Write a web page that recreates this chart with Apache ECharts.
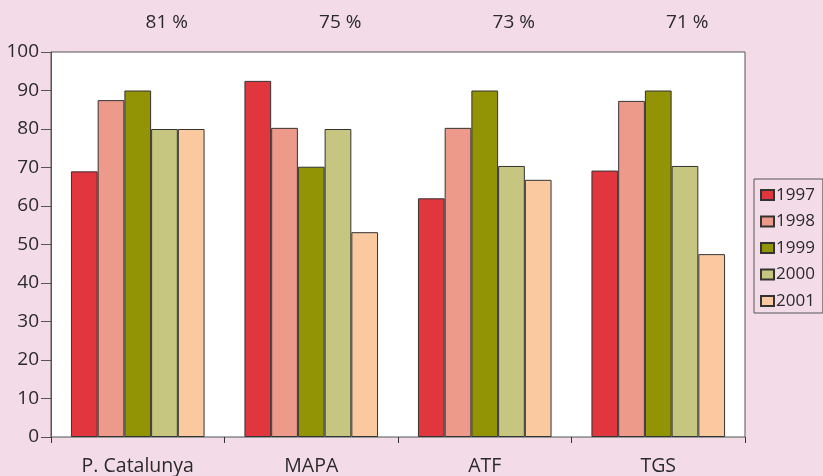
<!DOCTYPE html>
<html>
<head>
<meta charset="utf-8">
<script src="https://cdn.jsdelivr.net/npm/echarts@6/dist/echarts.min.js"></script>
<style>
  html, body { margin: 0; padding: 0; background: #f3dce8; }
  #chart { width: 823px; height: 476px; }
</style>
</head>
<body>
<div id="chart"></div>
<script>
// Sites along the category axis
const categories = ['P. Catalunya', 'MAPA', 'ATF', 'TGS'];
// Overall percentage shown above each site
const topLabels = ['81 %', '75 %', '73 %', '71 %'];
// Yearly values per site
const years = ['1997', '1998', '1999', '2000', '2001'];
const v1997 = [69, 92.5, 62, 69.2];
const v1998 = [87.5, 80.3, 80.3, 87.3];
const v1999 = [90, 70.2, 90, 90];
const v2000 = [80, 80, 70.4, 70.4];
const v2001 = [80, 53.2, 66.8, 47.5];
const yearValues = [v1997, v1998, v1999, v2000, v2001];
const yearColors = ['#e2363e', '#ee9a8a', '#939306', '#c6c681', '#fbc9a0'];

const font = '"Open Sans", "Noto Sans", sans-serif';
const textColor = '#2a2a2a';
const chart = echarts.init(document.getElementById('chart'));

chart.setOption({
  backgroundColor: '#f3dce8',
  animation: false,
  textStyle: { fontFamily: font },
  grid: {
    left: 51, right: 78, top: 52, bottom: 39,
    show: true, backgroundColor: '#ffffff', borderColor: '#555555', borderWidth: 1
  },
  legend: {
    orient: 'vertical',
    left: 754, top: 179,
    data: years,
    itemWidth: 13, itemHeight: 10, itemGap: 8.5,
    padding: [7, 8, 3, 6],
    backgroundColor: '#f3dce8',
    borderColor: '#555555', borderWidth: 1,
    textStyle: { fontSize: 17, color: textColor, lineHeight: 18, fontFamily: font, padding: [0, 0, 0, -3] },
    icon: 'rect'
  },
  xAxis: [
    {
      type: 'category',
      data: categories,
      axisLine: { lineStyle: { color: '#999999', width: 1 } },
      axisTick: { show: true, length: 6, lineStyle: { color: '#333333' } },
      axisLabel: { fontSize: 19.5, color: textColor, margin: 19, fontFamily: font }
    },
    {
      type: 'category',
      position: 'top',
      data: topLabels,
      axisLine: { show: false },
      axisTick: { show: false },
      axisLabel: { fontSize: 19, color: textColor, margin: 20, padding: [0, 0, 0, 58], fontFamily: font }
    }
  ],
  yAxis: {
    type: 'value',
    min: 0, max: 100, interval: 10,
    splitLine: { show: false },
    axisLine: { show: true, lineStyle: { color: '#555555' } },
    axisTick: { show: true, length: 10, lineStyle: { color: '#555555' } },
    axisLabel: { fontSize: 19, color: textColor, margin: 12, fontFamily: font }
  },
  series: years.map((y, i) => ({
    name: y,
    type: 'bar',
    data: yearValues[i],
    barGap: '0%',
    barCategoryGap: '23%',
    itemStyle: { color: yearColors[i], borderColor: '#333333', borderWidth: 1 }
  }))
});
</script>
</body>
</html>
